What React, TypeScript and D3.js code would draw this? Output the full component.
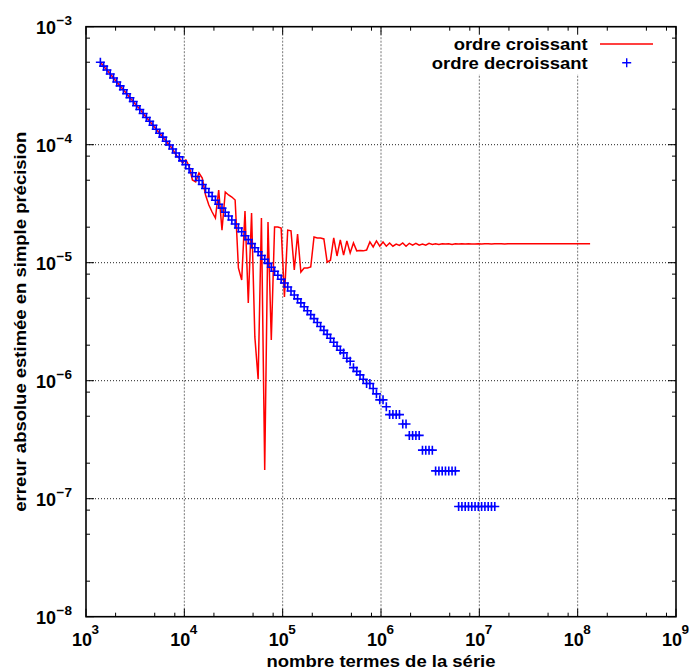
import * as d3 from "d3";

// nombre de termes de la série (axe x)
const nTerms = [
  1400, 1512, 1633, 1764, 1905, 2057, 2222, 2400, 2592, 2799,
  3023, 3265, 3526, 3808, 4113, 4442, 4797, 5181, 5596, 6043,
  6527, 7049, 7613, 8222, 8880, 9590, 10357, 11186, 12081, 13047,
  14091, 15218, 16436, 17751, 19171, 20704, 22360, 24149, 26081, 28168,
  30421, 32855, 35483, 38322, 41388, 44699, 48275, 52137, 56308, 60812,
  65677, 70931, 76606, 82734, 89353, 96501, 104221, 112559, 121564, 131289,
  141792, 153135, 165386, 178617, 192906, 208339, 225006, 243006, 262447, 283443,
  306118, 330607, 357056, 385620, 416470, 449788, 485771, 524633, 566603, 611932,
  660886, 713757, 770858, 832526, 899128, 971058, 1048743, 1132642, 1223254, 1321114,
  1426803, 1540947, 1664223, 1797361, 1941150, 2096442, 2264157, 2445290, 2640913, 2852186,
  3080361, 3326790, 3592933, 3880368, 4190797, 4526061, 4888146, 5279198, 5701534, 6157657,
  6650270, 7182291, 7756875, 8377425, 9047619, 9771429, 10553143, 11397394, 12309186, 13293921,
  14357434, 15506029, 16746511, 18086232, 19533131, 21095781, 22783444, 24606119, 26574609, 28700578,
  30996624, 33476354, 36154462, 39046819, 42170564, 45544209, 49187746, 53122766, 57372587, 61962394,
  66919385, 72272936, 78054771, 84299153, 91043085, 98326532, 106192655, 114688067, 123863112, 133772161,
];

// ordre decroissant (croix bleues)
const errDecroissant = [
  5.00e-4, 4.63e-4, 4.29e-4, 3.97e-4, 3.67e-4, 3.40e-4, 3.15e-4, 2.92e-4, 2.70e-4, 2.50e-4,
  2.32e-4, 2.14e-4, 1.99e-4, 1.84e-4, 1.70e-4, 1.58e-4, 1.46e-4, 1.35e-4, 1.25e-4, 1.16e-4,
  1.07e-4, 9.93e-5, 9.19e-5, 8.51e-5, 7.88e-5, 7.30e-5, 6.76e-5, 6.26e-5, 5.79e-5, 5.37e-5,
  4.97e-5, 4.60e-5, 4.26e-5, 3.94e-5, 3.65e-5, 3.38e-5, 3.13e-5, 2.90e-5, 2.68e-5, 2.49e-5,
  2.30e-5, 2.13e-5, 1.97e-5, 1.83e-5, 1.69e-5, 1.57e-5, 1.45e-5, 1.34e-5, 1.24e-5, 1.15e-5,
  1.07e-5, 9.87e-6, 9.14e-6, 8.46e-6, 7.83e-6, 7.25e-6, 6.72e-6, 6.22e-6, 5.76e-6, 5.33e-6,
  4.94e-6, 4.57e-6, 4.23e-6, 3.92e-6, 3.63e-6, 3.36e-6, 3.11e-6, 2.88e-6, 2.67e-6, 2.47e-6,
  2.29e-6, 2.12e-6, 1.96e-6, 1.81e-6, 1.72e-6, 1.55e-6, 1.46e-6, 1.29e-6, 1.20e-6, 1.12e-6,
  1.03e-6, 9.46e-7, 9.46e-7, 8.60e-7, 7.74e-7, 6.88e-7, 6.88e-7, 6.02e-7, 5.16e-7, 5.16e-7,
  5.16e-7, 5.16e-7, 4.30e-7, 4.30e-7, 3.44e-7, 3.44e-7, 3.44e-7, 3.44e-7, 2.58e-7, 2.58e-7,
  2.58e-7, 2.58e-7, 1.72e-7, 1.72e-7, 1.72e-7, 1.72e-7, 1.72e-7, 1.72e-7, 1.72e-7, 8.6e-8,
  8.6e-8, 8.6e-8, 8.6e-8, 8.6e-8, 8.6e-8, 8.6e-8, 8.6e-8, 8.6e-8, 8.6e-8, 8.6e-8,
  8.6e-8,
];

// ordre croissant (ligne rouge)
const errCroissant = [
  5.00e-4, 4.63e-4, 4.29e-4, 3.97e-4, 3.67e-4, 3.40e-4, 3.15e-4, 2.92e-4, 2.70e-4, 2.50e-4,
  2.32e-4, 2.14e-4, 2.01e-4, 1.84e-4, 1.70e-4, 1.58e-4, 1.46e-4, 1.35e-4, 1.25e-4, 1.16e-4,
  1.07e-4, 9.93e-5, 9.20e-5, 8.18e-5, 7.71e-5, 7.00e-5, 7.42e-5, 6.60e-5, 5.02e-5, 4.83e-5,
  5.76e-5, 5.22e-5, 3.75e-5, 3.08e-5, 2.69e-5, 2.39e-5, 4.13e-5, 1.89e-5, 3.97e-5, 3.75e-5,
  3.60e-5, 3.40e-5, 9.02e-6, 7.14e-6, 2.74e-5, 4.56e-6, 2.64e-5, 2.35e-6, 1.03e-6, 2.39e-5,
  1.75e-7, 2.21e-5, 2.21e-6, 2.01e-5, 2.01e-5, 1.97e-5, 5.12e-6, 1.89e-5, 1.86e-5, 8.67e-6,
  1.75e-5, 8.34e-6, 9.02e-6, 9.02e-6, 9.19e-6, 1.65e-5, 1.62e-5, 1.62e-5, 1.59e-5, 1.01e-5,
  1.05e-5, 1.62e-5, 1.14e-5, 1.56e-5, 1.16e-5, 1.53e-5, 1.21e-5, 1.47e-5, 1.26e-5, 1.27e-5,
  1.26e-5, 1.28e-5, 1.50e-5, 1.36e-5, 1.53e-5, 1.38e-5, 1.50e-5, 1.38e-5, 1.47e-5, 1.38e-5,
  1.44e-5, 1.40e-5, 1.47e-5, 1.38e-5, 1.46e-5, 1.41e-5, 1.46e-5, 1.41e-5, 1.44e-5, 1.41e-5,
  1.46e-5, 1.43e-5, 1.45e-5, 1.43e-5, 1.45e-5, 1.44e-5, 1.45e-5, 1.43e-5, 1.45e-5, 1.44e-5,
  1.45e-5, 1.44e-5, 1.45e-5, 1.44e-5, 1.44e-5, 1.45e-5, 1.44e-5, 1.45e-5, 1.45e-5, 1.44e-5,
  1.45e-5, 1.45e-5, 1.45e-5, 1.44e-5, 1.45e-5, 1.45e-5, 1.45e-5, 1.45e-5, 1.45e-5, 1.45e-5,
  1.45e-5, 1.45e-5, 1.45e-5, 1.45e-5, 1.45e-5, 1.45e-5, 1.45e-5, 1.45e-5, 1.45e-5, 1.45e-5,
  1.45e-5, 1.45e-5, 1.45e-5, 1.45e-5, 1.45e-5, 1.45e-5, 1.45e-5, 1.45e-5, 1.45e-5, 1.45e-5,
];

const xExponents = [3, 4, 5, 6, 7, 8, 9];
const yExponents = [-8, -7, -6, -5, -4, -3];
const minorFactors = [2, 5, 8];

const W = 690, H = 671;
const margin = {top: 26.7, right: 14, bottom: 54.3, left: 86};
const FONT = "'Liberation Sans', Arial, Helvetica, sans-serif";

const App = () => {
  const x = d3.scaleLog().domain([1e3, 1e9]).range([margin.left, W - margin.right]);
  const y = d3.scaleLog().domain([1e-8, 1e-3]).range([H - margin.bottom, margin.top]);
  const [x0, x1] = x.range();
  const [y0, y1] = y.range(); // y0 bottom, y1 top

  const redLine = d3.line<number>()
    .x((d, i) => x(nTerms[i]))
    .y(d => y(d));

  const xMinor = xExponents.slice(0, -1).flatMap(e => minorFactors.map(f => f * Math.pow(10, e)));
  const yMinor = yExponents.slice(0, -1).flatMap(e => minorFactors.map(f => f * Math.pow(10, e)));
  const major = 8, minor = 4;
  const arm = 4.5;

  return (
    <svg width={W} height={H} style={{position: "absolute", left: 0, top: 0, background: "#fff"}}
         fontFamily={FONT} fontWeight="bold">
      {/* grid */}
      {xExponents.slice(1, -1).map(e => (
        <line key={"gx" + e} x1={x(Math.pow(10, e))} x2={x(Math.pow(10, e))} y1={y0} y2={y1}
              stroke="#777" strokeWidth={1} strokeDasharray="2,1.5"/>
      ))}
      {yExponents.slice(1, -1).map(e => (
        <line key={"gy" + e} x1={x0} x2={x1} y1={y(Math.pow(10, e))} y2={y(Math.pow(10, e))}
              stroke="#222" strokeWidth={1} strokeDasharray="1,2"/>
      ))}

      {/* legend background hides grid */}
      <rect x={425} y={29} width={248} height={45} fill="#fff"/>

      {/* data */}
      <path d={redLine(errCroissant) || ""} fill="none" stroke="#ff0000" strokeWidth={1.5}/>
      {errDecroissant.map((v, i) => (
        <path key={"p" + i} d={`M${x(nTerms[i]) - arm},${y(v)}h${2 * arm}M${x(nTerms[i])},${y(v) - arm}v${2 * arm}`}
              stroke="#0000ff" strokeWidth={1.6} fill="none"/>
      ))}

      {/* ticks */}
      {xExponents.map(e => {
        const px = x(Math.pow(10, e));
        return (
          <g key={"tx" + e}>
            <line x1={px} x2={px} y1={y0} y2={y0 - major} stroke="#000"/>
            <line x1={px} x2={px} y1={y1} y2={y1 + major} stroke="#000"/>
          </g>
        );
      })}
      {xMinor.map(v => (
        <g key={"mx" + v}>
          <line x1={x(v)} x2={x(v)} y1={y0} y2={y0 - minor} stroke="#000"/>
          <line x1={x(v)} x2={x(v)} y1={y1} y2={y1 + minor} stroke="#000"/>
        </g>
      ))}
      {yExponents.map(e => {
        const py = y(Math.pow(10, e));
        return (
          <g key={"ty" + e}>
            <line x1={x0} x2={x0 + major} y1={py} y2={py} stroke="#000"/>
            <line x1={x1} x2={x1 - major} y1={py} y2={py} stroke="#000"/>
          </g>
        );
      })}
      {yMinor.map(v => (
        <g key={"my" + v}>
          <line x1={x0} x2={x0 + minor} y1={y(v)} y2={y(v)} stroke="#000"/>
          <line x1={x1} x2={x1 - minor} y1={y(v)} y2={y(v)} stroke="#000"/>
        </g>
      ))}

      {/* frame */}
      <rect x={x0} y={y1} width={x1 - x0} height={y0 - y1} fill="none" stroke="#000" strokeWidth={1.6}/>

      {/* tick labels */}
      {xExponents.map(e => {
        const px = x(Math.pow(10, e));
        return (
          <g key={"lx" + e}>
            <text x={px - 14} y={646} fontSize={18}>10</text>
            <text x={px + 5.5} y={634} fontSize={13.5}>{e}</text>
          </g>
        );
      })}
      {yExponents.map(e => {
        const py = y(Math.pow(10, e));
        return (
          <g key={"ly" + e}>
            <text x={56} y={py + 7.5} fontSize={18} textAnchor="end">10</text>
            <text x={56.5} y={py - 1.5} fontSize={13.5}>{"\u2212" + (-e)}</text>
          </g>
        );
      })}

      {/* axis labels */}
      <text x={(x0 + x1) / 2} y={667} fontSize={17} textAnchor="middle"
            textLength={229} lengthAdjust="spacingAndGlyphs">nombre termes de la série</text>
      <text transform={`translate(26,${(y0 + y1) / 2}) rotate(-90)`} fontSize={17} textAnchor="middle"
            textLength={380} lengthAdjust="spacingAndGlyphs">erreur absolue estimée en simple précision</text>

      {/* legend */}
      <text x={587.7} y={50} fontSize={16} textAnchor="end"
            textLength={134} lengthAdjust="spacingAndGlyphs">ordre croissant</text>
      <line x1={600} x2={653} y1={44} y2={44} stroke="#ff0000" strokeWidth={1.5}/>
      <text x={587.7} y={68.5} fontSize={16} textAnchor="end"
            textLength={156} lengthAdjust="spacingAndGlyphs">ordre decroissant</text>
      <path d="M622.2,62.7h9M626.7,58.2v9" stroke="#0000ff" strokeWidth={1.4} fill="none"/>
    </svg>
  );
};

export default App;
